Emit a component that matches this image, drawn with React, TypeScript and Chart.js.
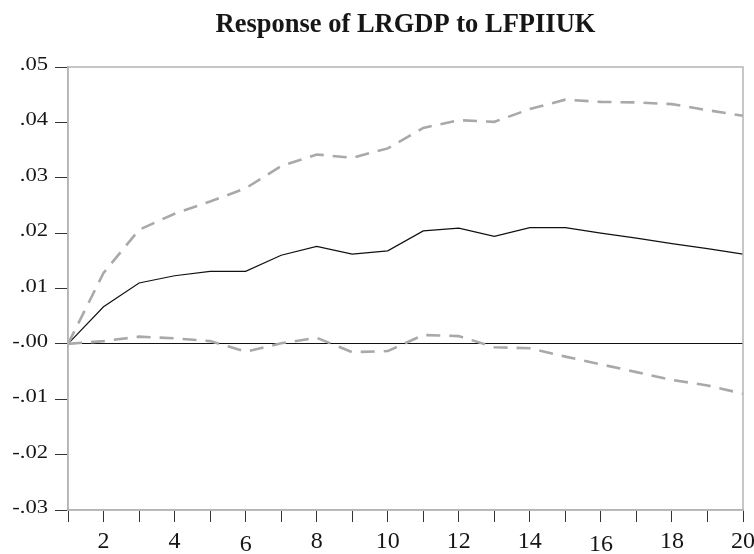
import React, { useEffect, useRef } from "react";
import { Chart, registerables } from "chart.js";

Chart.register(...registerables);

const titleText = "Response of LRGDP to LFPIIUK";
const periods = ["1","2","3","4","5","6","7","8","9","10","11","12","13","14","15","16","17","18","19","20"];
const response = [0, 0.0067, 0.0110, 0.0123, 0.0131, 0.0131, 0.0160, 0.0176, 0.0162, 0.0168, 0.0204, 0.0209, 0.0194, 0.0210, 0.0210, 0.0200, 0.0191, 0.0181, 0.0172, 0.0162];
const upperBand = [0, 0.0128, 0.0206, 0.0235, 0.0257, 0.0281, 0.0321, 0.0342, 0.0336, 0.0353, 0.0390, 0.0404, 0.0401, 0.0424, 0.0441, 0.0437, 0.0436, 0.0433, 0.0422, 0.0412];
const lowerBand = [0, 0.0005, 0.0013, 0.0010, 0.0005, -0.0014, 0.0001, 0.0011, -0.0015, -0.0013, 0.0016, 0.0014, -0.0006, -0.0008, -0.0023, -0.0037, -0.0051, -0.0065, -0.0075, -0.0090];
const yTickValues = [0.05, 0.04, 0.03, 0.02, 0.01, 0, -0.01, -0.02, -0.03];
const yTickLabels = [".05", ".04", ".03", ".02", ".01", "-.00", "-.01", "-.02", "-.03"];
const xLabelDrop: Record<string, number> = { "6": 3, "16": 3 };

const SERIF = '"Liberation Serif", "Times New Roman", serif';

const framePlugin = {
  id: "framePlugin",
  afterDraw(chart: any) {
    const { ctx, chartArea, scales } = chart;
    ctx.save();
    ctx.strokeStyle = "#b4b4b4";
    ctx.lineWidth = 1.5;
    ctx.strokeRect(chartArea.left, chartArea.top, chartArea.right - chartArea.left, chartArea.bottom - chartArea.top);

    // title
    ctx.fillStyle = "#161616";
    ctx.font = `bold 26.5px ${SERIF}`;
    ctx.textAlign = "center";
    ctx.textBaseline = "alphabetic";
    ctx.fillText(titleText, (chartArea.left + chartArea.right) / 2, 32);

    // y tick labels
    ctx.font = `19.5px ${SERIF}`;
    ctx.textAlign = "right";
    yTickValues.forEach((v, i) => {
      const y = scales.y.getPixelForValue(v);
      ctx.save();
      ctx.translate(48, y + 3);
      ctx.scale(1.16, 1);
      ctx.fillText(yTickLabels[i], 0, 0);
      ctx.restore();
    });

    // x tick labels (even periods)
    ctx.font = `24px ${SERIF}`;
    ctx.textAlign = "center";
    periods.forEach((p, i) => {
      if (Number(p) % 2 !== 0) return;
      const x = scales.x.getPixelForValue(i);
      ctx.fillText(p, x, 548 + (xLabelDrop[p] || 0));
    });
    ctx.restore();
  },
};

export default function App() {
  const ref = useRef<HTMLCanvasElement>(null);
  useEffect(() => {
    if (!ref.current) return;
    const chart = new Chart(ref.current, {
      type: "line",
      data: {
        labels: periods,
        datasets: [
          { data: upperBand, borderColor: "#a9a9a9", borderWidth: 2.6, borderDash: [14, 9], pointRadius: 0, tension: 0, fill: false },
          { data: lowerBand, borderColor: "#a9a9a9", borderWidth: 2.6, borderDash: [14, 9], pointRadius: 0, tension: 0, fill: false },
          { data: response, borderColor: "#111", borderWidth: 1.2, pointRadius: 0, tension: 0, fill: false },
        ],
      },
      options: {
        responsive: false,
        animation: false,
        layout: { padding: { top: 67, right: 11, left: 0, bottom: 0 } },
        plugins: { legend: { display: false }, title: { display: false }, tooltip: { enabled: false } },
        scales: {
          x: {
            type: "category",
            offset: false,
            grid: { display: true, drawOnChartArea: false, drawTicks: true, tickLength: 12, tickColor: "#333", tickWidth: 1, offset: false },
            border: { display: true, color: "#b4b4b4", width: 1.5 },
            ticks: { display: false, autoSkip: false, maxRotation: 0 },
            afterFit: (s: any) => { s.height = 44; },
          },
          y: {
            min: -0.03,
            max: 0.05,
            afterBuildTicks: (s: any) => { s.ticks = yTickValues.map((v) => ({ value: v })); },
            grid: {
              display: true,
              drawOnChartArea: true,
              drawTicks: true,
              tickLength: 13,
              tickColor: "#333",
              color: (c: any) => (c.tick && Math.abs(c.tick.value) < 1e-9 ? "#111" : "rgba(0,0,0,0)"),
              lineWidth: 1,
            },
            border: { display: true, color: "#b4b4b4", width: 1.5 },
            ticks: { display: false },
            afterFit: (s: any) => { s.width = 68; },
          },
        },
      },
      plugins: [framePlugin],
    });
    return () => chart.destroy();
  }, []);
  return (
    <div style={{ position: "fixed", left: 0, top: 0, width: 754, height: 554, background: "#fff" }}>
      <canvas ref={ref} width={754} height={554} />
    </div>
  );
}
